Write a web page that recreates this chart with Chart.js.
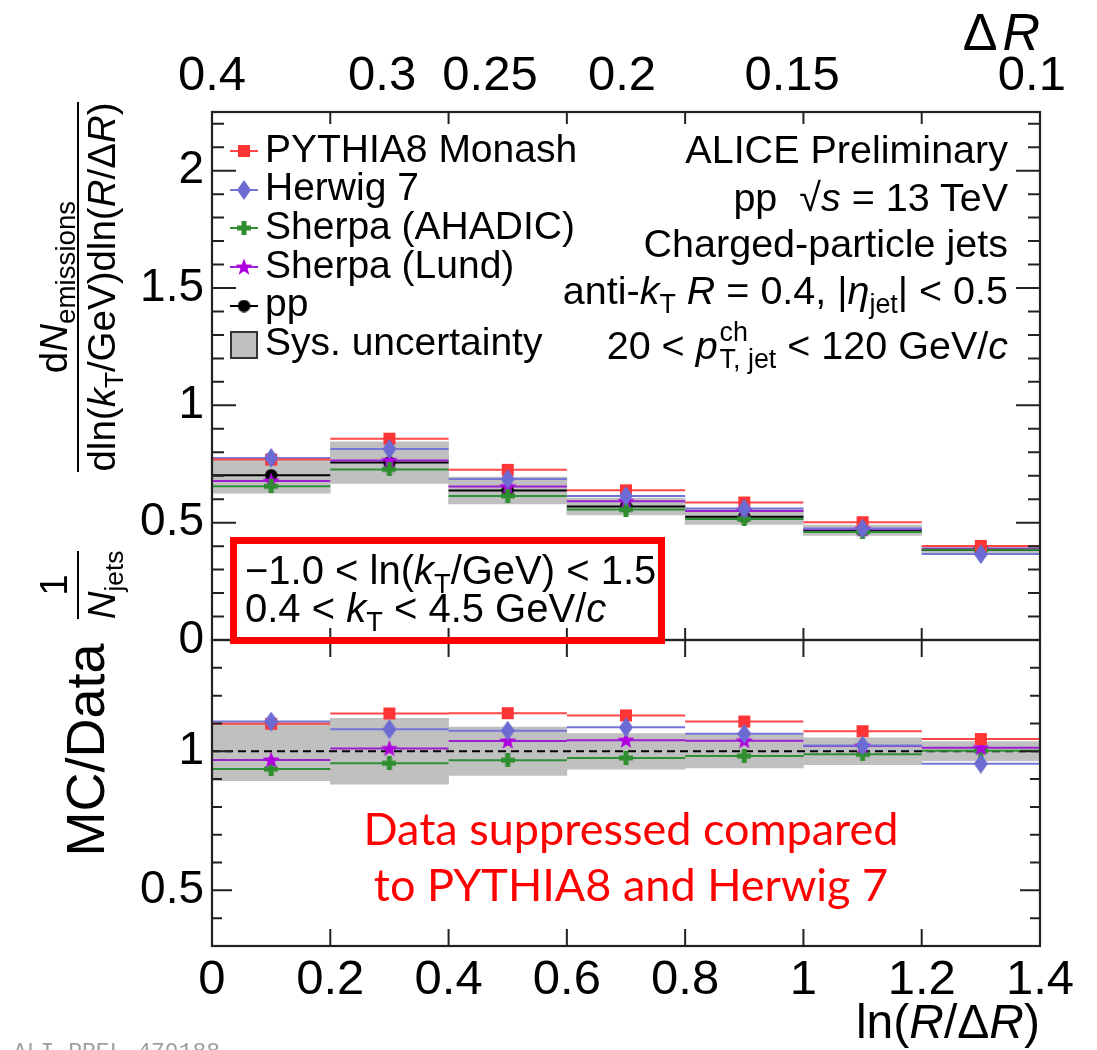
<!DOCTYPE html>
<html><head><meta charset="utf-8">
<script src="https://cdn.jsdelivr.net/npm/chart.js@4.4.0/dist/chart.umd.min.js"></script>
<style>
html,body{margin:0;padding:0;background:#fff;}
#wrap{position:relative;width:1097px;height:1050px;overflow:hidden;font-family:"Liberation Sans",Arial,sans-serif;color:#000;}
canvas{position:absolute;left:0;}
#cTop{top:0;}
#cBot{top:600px;}
.t{position:absolute;white-space:nowrap;line-height:1;}
.sub{font-size:0.68em;position:relative;top:0.32em;}
.ss{display:inline-flex;flex-direction:column;font-size:0.68em;line-height:1;vertical-align:18px;margin-left:2px;}
.frac{display:inline-flex;flex-direction:column;align-items:stretch;text-align:center;line-height:1.05;}
.frac .num{border-bottom:2.5px solid #000;padding-bottom:3px;}
.frac .den{padding-top:3px;}
.rot{position:absolute;display:flex;align-items:center;justify-content:center;transform:rotate(-90deg);white-space:nowrap;line-height:1;}
</style></head>
<body>
<div id="wrap">
<canvas id="cTop" width="1097" height="700"></canvas>
<canvas id="cBot" width="1097" height="450"></canvas>

<!-- axis titles -->
<div class="t" style="right:57px;top:6px;font-size:52px;"><span style="margin-right:5px;">Δ</span><i>R</i></div>
<div class="t" style="right:57px;top:998px;font-size:48px;">ln(<i>R</i>/Δ<i>R</i>)</div>
<div class="rot" style="left:-55px;top:710px;width:280px;height:80px;font-size:54px;">MC/Data</div>
<div class="rot" style="left:-122px;top:242px;width:400px;height:90px;font-size:38.5px;">
  <div class="frac"><div class="num">d<i>N</i><span class="sub" style="font-size:0.72em;">emissions</span></div><div class="den">dln(<i>k</i><span class="sub">T</span>/GeV)dln(<i>R</i>/Δ<i>R</i>)</div></div>
</div>
<div class="rot" style="left:18px;top:540px;width:120px;height:90px;font-size:38.5px;">
  <div class="frac"><div class="num">1</div><div class="den"><i>N</i><span class="sub">jets</span></div></div>
</div>

<!-- legend -->
<div id="legend"></div>

<!-- ALICE block -->
<div class="t" style="right:89px;top:130px;font-size:39.5px;">ALICE Preliminary</div>
<div class="t" style="right:89px;top:178px;font-size:39.5px;">pp &nbsp;√<i>s</i> = 13 TeV</div>
<div class="t" style="right:89px;top:224px;font-size:39.5px;">Charged-particle jets</div>
<div class="t" style="right:89px;top:271px;font-size:39.5px;">anti-<i>k</i><span class="sub">T</span> <i>R</i> = 0.4, |<i>η</i><span class="sub">jet</span>| &lt; 0.5</div>
<div class="t" style="right:89px;top:319px;font-size:39.5px;">20 &lt; <i>p</i><span class="ss"><span>ch</span><span>T, jet</span></span> &lt; 120 GeV/<i>c</i></div>

<!-- red box -->
<div style="position:absolute;left:230px;top:537px;width:435px;height:107px;border:7px solid #ff0000;box-sizing:border-box;"></div>
<div class="t" style="left:245px;top:550px;font-size:40px;">−1.0 &lt; ln(<i>k</i><span class="sub">T</span>/GeV) &lt; 1.5</div>
<div class="t" style="left:245px;top:588px;font-size:40px;">0.4 &lt; <i>k</i><span class="sub">T</span> &lt; 4.5 GeV/<i>c</i></div>

<!-- red annotation -->
<div class="t" style="left:331px;width:600px;text-align:center;top:806px;font-size:45px;color:#ff0000;font-family:Lato,'Open Sans',sans-serif;">Data suppressed compared</div>
<div class="t" style="left:331px;width:600px;text-align:center;top:862px;font-size:45px;color:#ff0000;font-family:Lato,'Open Sans',sans-serif;">to PYTHIA8 and Herwig 7</div>

<div class="t" style="left:13px;top:1042px;font-size:23px;color:#a0a0a0;font-family:'Liberation Mono','DejaVu Sans Mono',monospace;">ALI-PREL-479188</div>
</div>

<script>
// ---------------- data ----------------
const binCenters = [0.1, 0.3, 0.5, 0.7, 0.9, 1.1, 1.3];
const binWidth = 0.2;
const xTickValues = [0, 0.2, 0.4, 0.6, 0.8, 1.0, 1.2, 1.4];
const xTickLabels = ['0', '0.2', '0.4', '0.6', '0.8', '1', '1.2', '1.4'];
const jetR = 0.4;
const deltaRValues = [0.4, 0.3, 0.25, 0.2, 0.15, 0.1];
const deltaRLabels = ['0.4', '0.3', '0.25', '0.2', '0.15', '0.1'];
const upperYTickValues = [0,0.1,0.2,0.3,0.4,0.5,0.6,0.7,0.8,0.9,1.0,1.1,1.2,1.3,1.4,1.5,1.6,1.7,1.8,1.9,2.0,2.1,2.2];
const upperYLabelValues = [0, 0.5, 1, 1.5, 2];
const upperYLabels = ['0', '0.5', '1', '1.5', '2'];
const lowerYTickValues = [0.3,0.4,0.5,0.6,0.7,0.8,0.9,1.0,1.1,1.2,1.3];
const lowerYLabelValues = [0.5, 1];
const lowerYLabels = ['0.5', '1'];

const ppData      = [0.702, 0.756, 0.637, 0.569, 0.525, 0.468, 0.384];
const ppSys       = [0.076, 0.089, 0.057, 0.036, 0.032, 0.022, 0.014];
const pythia      = [0.769, 0.858, 0.725, 0.638, 0.586, 0.502, 0.401];
const herwig      = [0.776, 0.814, 0.686, 0.614, 0.560, 0.475, 0.366];
const sherpaAhadic= [0.655, 0.727, 0.614, 0.556, 0.516, 0.460, 0.385];
const sherpaLund  = [0.678, 0.765, 0.654, 0.591, 0.550, 0.472, 0.389];

const ratioSys        = [0.106, 0.118, 0.087, 0.064, 0.060, 0.048, 0.035];
const pythiaRatio     = [1.099, 1.136, 1.137, 1.129, 1.107, 1.072, 1.044];
const herwigRatio     = [1.107, 1.079, 1.074, 1.086, 1.063, 1.021, 0.955];
const sherpaARatio    = [0.936, 0.957, 0.968, 0.976, 0.983, 0.989, 1.002];
const sherpaLRatio    = [0.969, 1.010, 1.037, 1.040, 1.038, 1.019, 1.013];

// ---------------- styles ----------------
const C = {
  red: '#ff3535', redLine: '#ff4848',
  blue: '#6b6bd3', blueLine: '#7676d6',
  green: '#2f8f2f', greenLine: '#2f8f37',
  purple: '#b000e0', purpleLine: '#9a1fcf',
  black: '#000000', band: '#c0c0c0'
};
function marker(kind, color) {
  const c = document.createElement('canvas');
  let w = 14, h = 14;
  if (kind === 'diamond') { w = 14; h = 20; }
  if (kind === 'star') { w = 18; h = 18; }
  if (kind === 'circle') { w = 13; h = 13; }
  c.width = w; c.height = h;
  const g = c.getContext('2d'); g.fillStyle = color;
  if (kind === 'square') { g.fillRect(1, 1, 12, 12); }
  if (kind === 'diamond') { g.beginPath(); g.moveTo(w/2, 0); g.lineTo(w, h/2); g.lineTo(w/2, h); g.lineTo(0, h/2); g.closePath(); g.fill(); }
  if (kind === 'plus') { const t = 5; g.fillRect((w-t)/2, 0, t, h); g.fillRect(0, (h-t)/2, w, t); }
  if (kind === 'circle') { g.beginPath(); g.arc(w/2, h/2, 6.2, 0, Math.PI*2); g.fill(); }
  if (kind === 'star') {
    const R = 9, r = 3.8; g.beginPath();
    for (let k = 0; k < 10; k++) { const a = -Math.PI/2 + k*Math.PI/5; const rr = k % 2 ? r : R;
      const px = w/2 + rr*Math.cos(a), py = h/2 + 0.5 + rr*Math.sin(a); k ? g.lineTo(px, py) : g.moveTo(px, py); }
    g.closePath(); g.fill();
  }
  return c;
}
const M = {
  red: marker('square', C.red), blue: marker('diamond', C.blue), green: marker('plus', C.green),
  purple: marker('star', C.purple), black: marker('circle', C.black)
};

// ---------------- helpers ----------------
function segs(vals) {
  const d = [];
  vals.forEach((v, i) => { const c = binCenters[i];
    d.push({x: c - binWidth/2, y: v}, {x: c + binWidth/2, y: v}, {x: c + binWidth/2, y: null}); });
  return d;
}
function pts(vals) { return vals.map((v, i) => ({x: binCenters[i], y: v})); }
function lineDs(vals, color, order) {
  return {type: 'line', data: segs(vals), borderColor: color, borderWidth: 2, pointRadius: 0, spanGaps: false, order: order, tension: 0};
}
function markDs(vals, style, order) {
  return {type: 'line', data: pts(vals), showLine: false, pointStyle: style, pointRadius: 7, order: order};
}
function bandDs(center, sys) {
  return {type: 'bar', data: center.map((v, i) => ({x: binCenters[i], y: [v - sys[i], v + sys[i]]})),
    backgroundColor: C.band, borderWidth: 0, barPercentage: 1, categoryPercentage: 1, grouped: false, order: 100};
}
function labelFor(values, labels) {
  return v => { const i = values.findIndex(q => Math.abs(q - v) < 1e-6); return i >= 0 ? labels[i] : ''; };
}
const yFont = {family: "'Liberation Sans', Arial, sans-serif", size: 46};
const xFont = {family: "'Liberation Sans', Arial, sans-serif", size: 49};

const frameTicks = {
  id: 'frameTicks',
  afterDatasetsDraw(chart, args, o) {
    const {ctx, chartArea: a} = chart;
    const xs = chart.scales.x, ys = chart.scales.y;
    ctx.save();
    ctx.strokeStyle = '#222'; ctx.lineWidth = 2;
    ctx.beginPath();
    xs.ticks.forEach(t => { const p = xs.getPixelForValue(t.value);
      if (p <= a.left + 1 || p >= a.right - 1) return;
      ctx.moveTo(p, a.bottom); ctx.lineTo(p, a.bottom - o.xBottom);
      ctx.moveTo(p, a.top); ctx.lineTo(p, a.top + o.xTop); });
    ys.ticks.forEach(t => { const p = ys.getPixelForValue(t.value);
      const major = o.majors.some(q => Math.abs(q - t.value) < 1e-6);
      const len = major ? o.yMajor : o.yMinor;
      ctx.moveTo(a.left, p); ctx.lineTo(a.left + len, p);
      ctx.moveTo(a.right, p); ctx.lineTo(a.right - len, p); });
    ctx.stroke();
    ctx.lineWidth = 2.2;
    ctx.strokeRect(a.left, a.top, a.right - a.left, a.bottom - a.top);
    ctx.restore();
  }
};

const common = {
  responsive: false, animation: false, devicePixelRatio: 1,
  plugins: {legend: {display: false}, tooltip: {enabled: false}},
  elements: {line: {tension: 0, borderCapStyle: 'butt'}}
};

// ---------------- upper panel ----------------
new Chart(document.getElementById('cTop'), {
  type: 'line',
  data: {datasets: [
    bandDs(ppData, ppSys),
    lineDs(pythia, C.redLine, 50), lineDs(herwig, C.blueLine, 51), lineDs(sherpaAhadic, C.greenLine, 52),
    lineDs(sherpaLund, C.purpleLine, 53), lineDs(ppData, C.black, 54),
    markDs(ppData, M.black, 14), markDs(sherpaLund, M.purple, 13), markDs(sherpaAhadic, M.green, 12),
    markDs(pythia, M.red, 11), markDs(herwig, M.blue, 10)
  ]},
  options: Object.assign({}, common, {
    layout: {padding: {left: 0, right: 57, top: 0, bottom: 0}},
    plugins: Object.assign({}, common.plugins, {frameTicks: {xBottom: 12, xTop: 12, yMajor: 24, yMinor: 12, majors: upperYLabelValues}}),
    scales: {
      x: {type: 'linear', min: 0, max: 1.4, offset: false, position: 'bottom',
        grid: {display: false, drawTicks: false}, border: {display: false},
        ticks: {display: false},
        afterBuildTicks: s => { s.ticks = xTickValues.map(v => ({value: v})); },
        afterFit: s => { s.height = 60; }},
      x2: {type: 'linear', min: 0, max: 1.4, offset: false, position: 'top',
        grid: {display: false, drawTicks: false}, border: {display: false},
        ticks: {font: xFont, color: '#000', padding: 6, autoSkip: false, maxRotation: 0, minRotation: 0,
          callback: (v, i) => deltaRLabels[i]},
        afterBuildTicks: s => { s.ticks = deltaRValues.map(d => ({value: Math.log(jetR / d)})); },
        afterFit: s => { s.height = 112; }},
      y: {type: 'linear', min: 0, max: 2.25, position: 'left',
        grid: {display: false, drawTicks: false}, border: {display: false},
        ticks: {font: yFont, color: '#000', padding: 8, autoSkip: false,
          callback: labelFor(upperYLabelValues, upperYLabels)},
        afterBuildTicks: s => { s.ticks = upperYTickValues.map(v => ({value: v})); },
        afterFit: s => { s.width = 212; }}
    }
  }),
  plugins: [frameTicks]
});

// ---------------- lower panel ----------------
new Chart(document.getElementById('cBot'), {
  type: 'line',
  data: {datasets: [
    bandDs(ratioSys.map(() => 1), ratioSys),
    {type: 'line', data: [{x: 0, y: 1}, {x: 1.4, y: 1}], borderColor: '#000', borderWidth: 2, borderDash: [8, 5], pointRadius: 0, order: 60},
    lineDs(pythiaRatio, C.redLine, 50), lineDs(herwigRatio, C.blueLine, 51), lineDs(sherpaARatio, C.greenLine, 52),
    lineDs(sherpaLRatio, C.purpleLine, 53),
    markDs(sherpaARatio, M.green, 13), markDs(sherpaLRatio, M.purple, 12),
    markDs(pythiaRatio, M.red, 11), markDs(herwigRatio, M.blue, 10)
  ]},
  options: Object.assign({}, common, {
    layout: {padding: {left: 0, right: 57, top: 40, bottom: 0}},
    plugins: Object.assign({}, common.plugins, {frameTicks: {xBottom: 17, xTop: 17, yMajor: 20, yMinor: 10, majors: lowerYLabelValues}}),
    scales: {
      x: {type: 'linear', min: 0, max: 1.4, offset: false, position: 'bottom',
        grid: {display: false, drawTicks: false}, border: {display: false},
        ticks: {font: xFont, color: '#000', padding: 5, autoSkip: false, maxRotation: 0, minRotation: 0,
          callback: labelFor(xTickValues, xTickLabels)},
        afterBuildTicks: s => { s.ticks = xTickValues.map(v => ({value: v})); },
        afterFit: s => { s.height = 104; }},
      y: {type: 'linear', min: 0.3, max: 1.4, position: 'left',
        grid: {display: false, drawTicks: false}, border: {display: false},
        ticks: {font: yFont, color: '#000', padding: 8, autoSkip: false,
          callback: labelFor(lowerYLabelValues, lowerYLabels)},
        afterBuildTicks: s => { s.ticks = lowerYTickValues.map(v => ({value: v})); },
        afterFit: s => { s.width = 212; }}
    }
  }),
  plugins: [frameTicks]
});

// ---------------- legend ----------------
const legendItems = [
  {label: 'PYTHIA8 Monash', color: C.redLine, m: M.red},
  {label: 'Herwig 7', color: C.blueLine, m: M.blue},
  {label: 'Sherpa (AHADIC)', color: C.greenLine, m: M.green},
  {label: 'Sherpa (Lund)', color: C.purpleLine, m: M.purple},
  {label: 'pp', color: C.black, m: M.black}
];
const leg = document.getElementById('legend');
const rowY = [148, 186.7, 225.4, 264, 302.8, 341.5];
legendItems.forEach((it, i) => {
  const cv = document.createElement('canvas'); cv.width = 32; cv.height = 26;
  cv.style.cssText = `position:absolute;left:228px;top:${rowY[i] + 3 - 13}px;`;
  const g = cv.getContext('2d'); g.strokeStyle = it.color; g.lineWidth = 2;
  g.beginPath(); g.moveTo(2, 13); g.lineTo(30, 13); g.stroke();
  g.drawImage(it.m, 16 - it.m.width/2, 13 - it.m.height/2);
  leg.appendChild(cv);
  const tx = document.createElement('div'); tx.className = 't';
  tx.style.cssText = `left:265px;top:${rowY[i] - 19.5}px;font-size:39px;`; tx.textContent = it.label;
  leg.appendChild(tx);
});
const box = document.createElement('div');
box.style.cssText = 'position:absolute;left:230px;top:331px;width:28px;height:28px;background:#c0c0c0;border:2px solid #333;box-sizing:border-box;';
leg.appendChild(box);
const st = document.createElement('div'); st.className = 't';
st.style.cssText = `left:265px;top:${rowY[5] - 19.5}px;font-size:39px;`; st.textContent = 'Sys. uncertainty';
leg.appendChild(st);
</script>
</body></html>
